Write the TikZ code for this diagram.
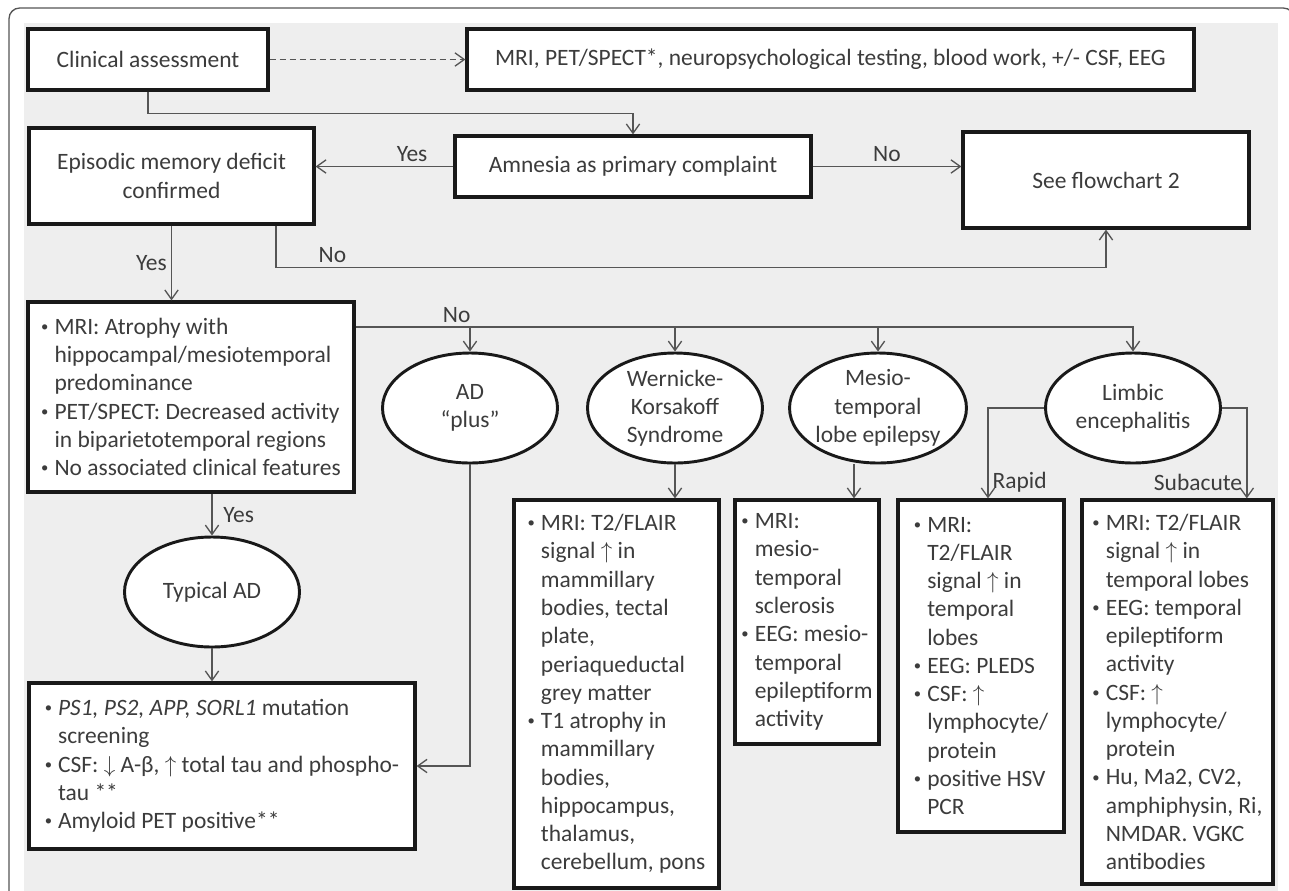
\documentclass[tikz,border=0pt]{standalone}
\usepackage{fontspec}
\setmainfont{Carlito}
\usepackage{xcolor}
\usepackage{tikz}
\usetikzlibrary{shapes.geometric, arrows.meta, positioning, calc}
\definecolor{bggray}{RGB}{238,238,238}
\definecolor{txtgray}{RGB}{60,60,60}
\definecolor{linegray}{RGB}{85,85,85}
\definecolor{bordergray}{RGB}{25,25,25}
\newcommand{\bul}{\makebox[10pt][l]{\raisebox{0.12em}{\fontsize{11}{11}\selectfont\textbullet}}}
\newcommand{\ind}{\hspace*{10pt}}

\begin{document}
\begin{tikzpicture}[
    x=0.75pt, y=-0.75pt,
    every node/.style={font=\fontsize{17.6}{21.2}\selectfont, text=txtgray},
    box/.style={draw=bordergray, line width=2.4pt, fill=white, align=center, inner sep=0pt},
    listbox/.style={box, align=left},
    oval/.style={draw=bordergray, line width=2.2pt, fill=white, ellipse, align=center, inner sep=0pt, minimum width=131.25pt, minimum height=82.5pt},
    conn/.style={draw=linegray, line width=1pt, -{Straight Barb[length=7pt,width=10pt]}},
    lbl/.style={inner sep=3pt}
]
    \useasboundingbox (0,0) rectangle (1289,890);
    \clip (0,0) rectangle (1289,890);

    % Frame and background
    \fill[bggray] (24,23) rectangle (1278,900);
    \draw[linegray, line width=1pt, rounded corners=8pt] (9,905) -- (9,8) -- (1294,8) -- (1294,905);

    % Top rows
    \node[box, minimum width=180pt, minimum height=45.75pt] (clin) at (148,59.5) {Clinical assessment};
    \node[box, minimum width=545.25pt, minimum height=45.75pt] (tests) at (830.5,59.5) {MRI, PET/SPECT*, neuropsychological testing, blood work, +/- CSF, EEG};
    \node[box, minimum width=267pt, minimum height=45.75pt] (amnesia) at (633,166.5) {Amnesia as primary complaint};
    \node[box, minimum width=213.75pt, minimum height=72pt] (episodic) at (171.5,176) {Episodic memory deficit\\confirmed};
    \node[box, minimum width=214.5pt, minimum height=72pt] (flow2) at (1106,180) {See flowchart 2};

    % Criteria
    \node[listbox, minimum width=244.5pt, minimum height=142.5pt] (mriad) at (191,397) {\bul MRI: Atrophy with\\ \ind hippocampal/mesiotemporal\\ \ind predominance\\ \bul PET/SPECT: Decreased activity\\ \ind in biparietotemporal regions\\ \bul No associated clinical features};

    % Diagnoses
    \node[oval] (adplus) at (470,408) {AD\\“plus”};
    \node[oval] (wk) at (675,408) {Wernicke-\\Korsakoff\\Syndrome};
    \node[oval] (mtle) at (878,408) {Mesio-\\temporal\\lobe epilepsy};
    \node[oval] (limbic) at (1133,408) {Limbic\\encephalitis};
    \node[oval] (typical) at (212,592) {Typical AD};

    % Findings
    \node[listbox, minimum width=289.5pt, minimum height=124.5pt] (adbox) at (222,766) {\bul \textit{PS1, PS2, APP, SORL1} mutation\\ \ind screening\\ \bul CSF: $\downarrow$ A-β, $\uparrow$ total tau and phospho-\\ \ind tau **\\ \bul Amyloid PET positive**};
    \node[listbox, minimum width=153.75pt, minimum height=291pt] (wkbox) at (616.5,694) {\bul MRI: T2/FLAIR\\ \ind signal $\uparrow$ in\\ \ind mammillary\\ \ind bodies, tectal\\ \ind plate,\\ \ind periaqueductal\\ \ind grey matter\\ \bul T1 atrophy in\\ \ind mammillary\\ \ind bodies,\\ \ind hippocampus,\\ \ind thalamus,\\ \ind cerebellum, pons};
    \node[listbox, minimum width=108pt, minimum height=183pt] (mtlebox) at (807,622) {\bul MRI:\\ \ind mesio-\\ \ind temporal\\ \ind sclerosis\\ \bul EEG: mesio-\\ \ind temporal\\ \ind epileptiform\\ \ind activity};
    \node[listbox, minimum width=124.5pt, minimum height=249pt] (rapidbox) at (981,666) {\bul MRI:\\ \ind T2/FLAIR\\ \ind signal $\uparrow$ in\\ \ind temporal\\ \ind lobes\\ \bul EEG: PLEDS\\ \bul CSF: $\uparrow$\\ \ind lymphocyte/\\ \ind protein\\ \bul positive HSV\\ \ind PCR};
    \node[listbox, minimum width=143.25pt, minimum height=288pt] (subbox) at (1177.5,692) {\bul MRI: T2/FLAIR\\ \ind signal $\uparrow$ in\\ \ind temporal lobes\\ \bul EEG: temporal\\ \ind epileptiform\\ \ind activity\\ \bul CSF: $\uparrow$\\ \ind lymphocyte/\\ \ind protein\\ \bul Hu, Ma2, CV2,\\ \ind amphiphysin, Ri,\\ \ind NMDAR. VGKC\\ \ind antibodies};

    % Connections
    \draw[conn, dash pattern=on 4.5pt off 3pt] (clin) -- (tests);
    \draw[conn] (clin.south) |- ([yshift=15.75pt]amnesia.north) -- (amnesia.north);
    \draw[conn] (amnesia.west) -- (amnesia.west -| episodic.east) node[lbl, above, pos=0.3] {Yes};
    \draw[conn] (amnesia.east) -- (amnesia.east -| flow2.west) node[lbl, above, midway] {No};
    \draw[conn] (episodic.south) -- (episodic.south |- mriad.north) node[lbl, left, midway] {Yes};
    \draw[conn] ([xshift=78.4pt]episodic.south) |- ([yshift=-28.5pt]flow2.south) node[lbl, above, pos=0.534] {No} -- (flow2.south);

    \coordinate (bus) at ([yshift=52.5pt]mriad.east);
    \draw[conn] (bus) -| (limbic.north) node[lbl, above, pos=0.065] {No};
    \draw[conn] (bus -| adplus.north) -- (adplus.north);
    \draw[conn] (bus -| wk.north) -- (wk.north);
    \draw[conn] (bus -| mtle.north) -- (mtle.north);

    \draw[conn] (typical.north |- mriad.south) -- (typical.north) node[lbl, right, midway, xshift=5pt] {Yes};
    \draw[conn] (typical.south) -- (typical.south |- adbox.north);
    \draw[conn] (adplus.south) |- (adbox.east);
    \draw[conn] (wk.south) -- (wk.south |- wkbox.north);
    \draw[conn] ([xshift=-18pt]mtle.south) -- ([xshift=-18pt]mtle.south |- mtlebox.north);
    \draw[conn] (limbic.west) -| ([xshift=5.25pt]rapidbox.north) node[lbl, right, pos=0.91] {Rapid};
    \draw[conn] (limbic.east) -| ([xshift=52pt]subbox.north) node[lbl, left, pos=0.91] {Subacute};
\end{tikzpicture}
\end{document}
